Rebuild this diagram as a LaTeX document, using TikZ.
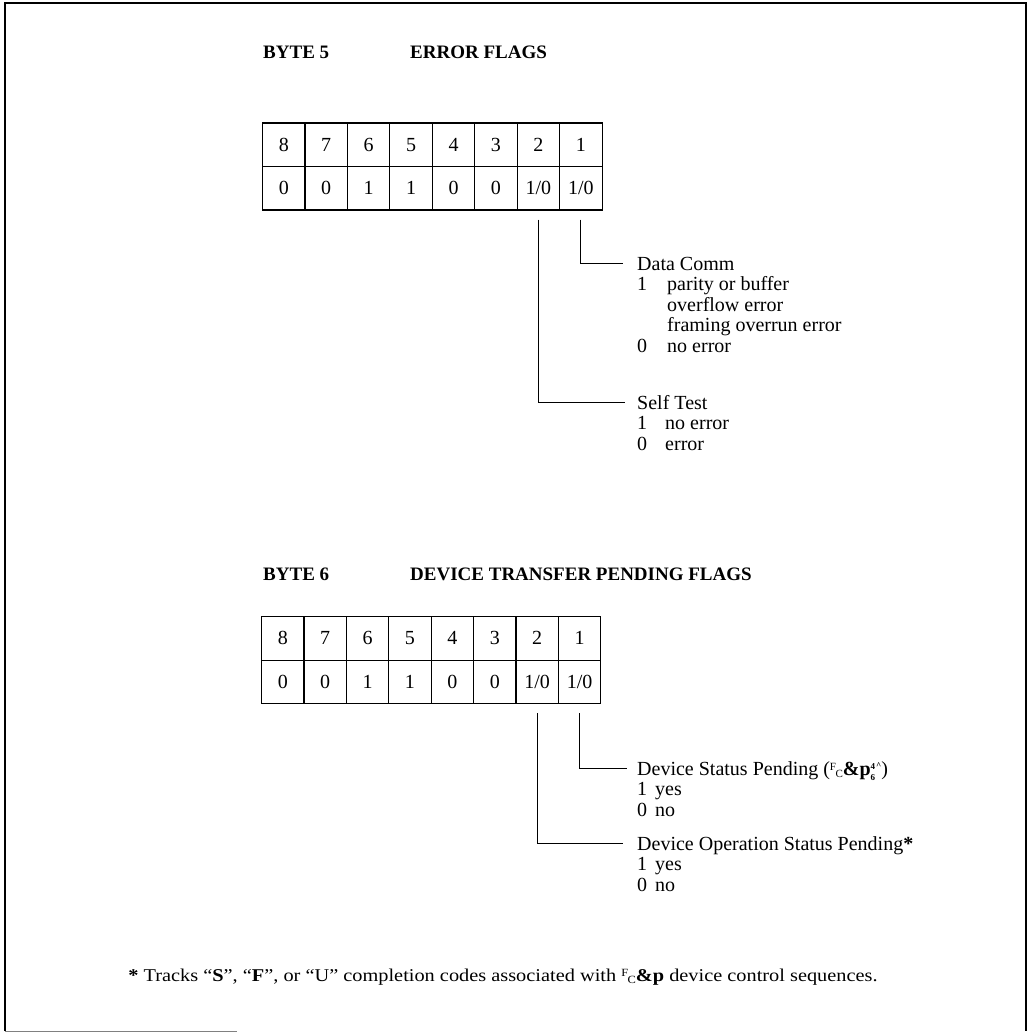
\documentclass[tikz,border=0pt]{standalone}
\usepackage{fontspec}
\setmainfont{Liberation Serif}
\usetikzlibrary{calc}
\newcommand\myesc{{\fontsize{11}{11}\selectfont\raisebox{5pt}{F}\kern-0.5pt\raisebox{-2pt}{C}}}
\newcommand\mysupsub{{\fontsize{9}{9}\selectfont\bfseries\raisebox{-5pt}{\shortstack[l]{4\\[1.5pt]6}}\kern1pt\raisebox{7pt}{\^{}}}}
\begin{document}
\begin{tikzpicture}[x=1pt,y=-1pt,
  cell/.style={draw,line width=1.1pt,minimum width=42.44pt,minimum height=43.5pt,inner sep=0pt,anchor=north west,font=\fontsize{20}{20}\selectfont},
  txt/.style={anchor=base west,inner sep=0pt,font=\fontsize{20}{20}\selectfont},
  ttl/.style={anchor=base west,inner sep=0pt,font=\fontsize{19}{19}\selectfont\bfseries},
  lead/.style={line width=0.9pt},
  frame/.style={line width=1.6pt}]
\useasboundingbox (0,0) rectangle (1031,1032);
% frame
\draw[frame] (5,1031) -- (5,3) -- (1026,3) -- (1026,1031);
\draw[gray,line width=1pt] (5,1031) -- (237,1031);

% ---------- BYTE 5 ----------
\node[ttl] (b5) at (263,59) {BYTE 5};
\node[ttl] (b5t) at (410,59) {ERROR FLAGS};
\foreach \n/\v [count=\i from 0] in {8/0,7/0,6/1,5/1,4/0,3/0,2/{1/0},1/{1/0}} {
  \node[cell] (ta\n) at (262+\i*42.44,122.5) {\n};
  \node[cell] (va\n) at (262+\i*42.44,166) {\v};
}
\coordinate (sa1) at ($(va1.south)+(0,9)$);
\coordinate (sa2) at ($(va2.south)+(0,9)$);
\coordinate (ea1) at (623,263);
\coordinate (ea2) at (625,402);
\draw[lead] (sa1) |- (ea1);
\draw[lead] (sa2) |- (ea2);

\node[txt] (dc) at (637,270) {Data Comm};
\node[txt] (dc1) at (637,290.5) {1};
\node[txt] (dc1t) at (667,290.5) {parity or buffer};
\node[txt] (dc2t) at (667,311) {overflow error};
\node[txt] (dc3t) at (667,331.5) {framing overrun error};
\node[txt] (dc0) at (637,352) {0};
\node[txt] (dc0t) at (667,352) {no error};

\node[txt] (st) at (637,409) {Self Test};
\node[txt] (st1) at (637,429.5) {1};
\node[txt] (st1t) at (665,429.5) {no error};
\node[txt] (st0) at (637,450) {0};
\node[txt] (st0t) at (665,450) {error};

% ---------- BYTE 6 ----------
\node[ttl] (b6) at (263,580) {BYTE 6};
\node[ttl] (b6t) at (410,580) {DEVICE TRANSFER PENDING FLAGS};
\foreach \n/\v [count=\i from 0] in {8/0,7/0,6/1,5/1,4/0,3/0,2/{1/0},1/{1/0}} {
  \node[cell] (tb\n) at (261+\i*42.4,616) {\n};
  \node[cell] (vb\n) at (261+\i*42.4,659.5) {\v};
}
\coordinate (sb1) at ($(vb1.south)+(0,9)$);
\coordinate (sb2) at ($(vb2.south)+(0,9)$);
\coordinate (eb1) at (627,768);
\coordinate (eb2) at (623,843);
\draw[lead] (sb1) |- (eb1);
\draw[lead] (sb2) |- (eb2);

\node[txt] (ds) at (637,775) {Device Status Pending (\myesc\textbf{\&p}\mysupsub)};
\node[txt] (ds1) at (637,795.5) {1};
\node[txt] (ds1t) at (655,795.5) {yes};
\node[txt] (ds0) at (637,816) {0};
\node[txt] (ds0t) at (655,816) {no};

\node[txt] (dos) at (637,850) {Device Operation Status Pending\textbf{*}};
\node[txt] (dos1) at (637,870.5) {1};
\node[txt] (dos1t) at (655,870.5) {yes};
\node[txt] (dos0) at (637,891) {0};
\node[txt] (dos0t) at (655,891) {no};

% footnote
\node[anchor=base,inner sep=0pt,font=\fontsize{18}{18}\selectfont] (fn) at (503,981)
  {\scalebox{1.13}[1]{\textbf{*} Tracks “\textbf{S}”, “\textbf{F}”, or “U” completion codes associated with \myesc\textbf{\&p} device control sequences.}};
\end{tikzpicture}
\end{document}
